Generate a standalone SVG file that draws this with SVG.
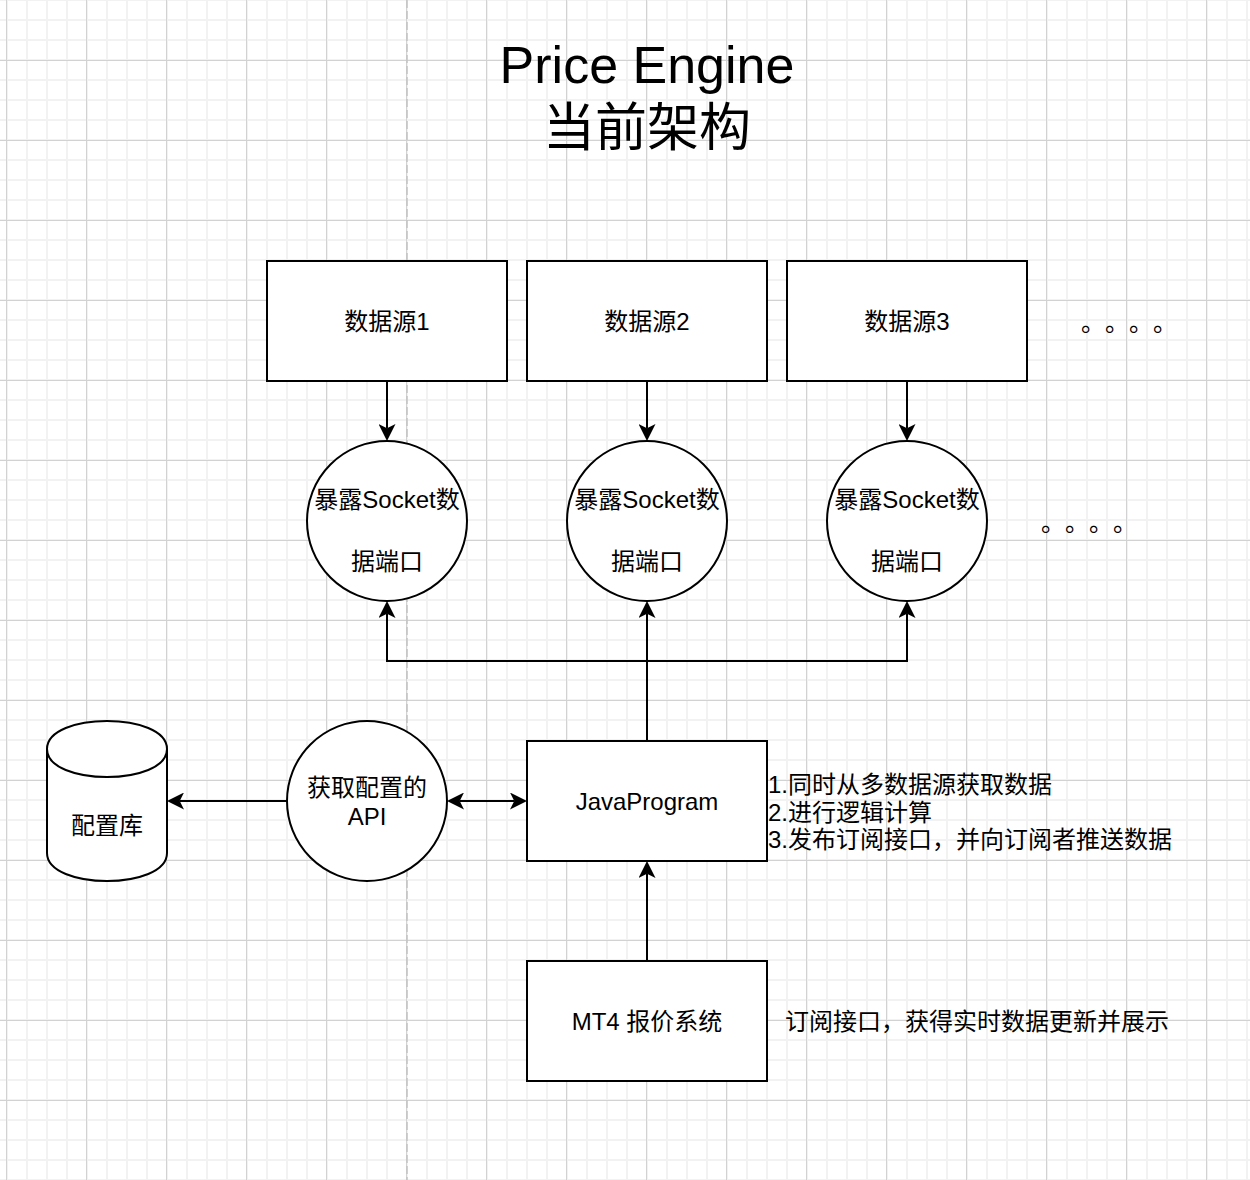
<svg xmlns="http://www.w3.org/2000/svg" width="1250" height="1180" viewBox="0 0 1250 1180">
<style>
  text { font-family: "Liberation Sans", "Noto Sans CJK SC", sans-serif; fill: #000; }
  .t24 { font-size: 24px; }
  .mid { text-anchor: middle; }
  .cjk { font-family: "Noto Sans CJK SC", sans-serif; }
  .shape { fill: #fff; stroke: #000; stroke-width: 2; }
  .edge { fill: none; stroke: #000; stroke-width: 2; }
</style>
<defs>
  <pattern id="minorGrid" x="6" y="-1" width="20" height="20" patternUnits="userSpaceOnUse">
    <path d="M1,0 V20 M0,1 H20" stroke="#f2f2f2" stroke-width="2" fill="none"/>
  </pattern>
  <pattern id="majorGrid" x="6" y="60" width="80" height="80" patternUnits="userSpaceOnUse">
    <path d="M0.5,0 V80 M0,0.5 H80" stroke="#d2d2d2" stroke-width="1" fill="none"/>
  </pattern>
  <marker id="arrow" viewBox="0 0 17 17" markerWidth="17" markerHeight="17" refX="4.25" refY="8.5" orient="auto-start-reverse" markerUnits="userSpaceOnUse">
    <path d="M0,0 L17,8.5 L0,17 L4.25,8.5 Z" fill="#000"/>
  </marker>
</defs>

<g id="background">
  <rect x="0" y="0" width="1250" height="1180" fill="#fff"/>
  <rect x="0" y="0" width="1250" height="1180" fill="url(#minorGrid)"/>
  <rect x="0" y="0" width="1250" height="1180" fill="url(#majorGrid)"/>
  <line x1="407" y1="0" x2="407" y2="1180" stroke="#c4c4c4" stroke-width="1.5" stroke-dasharray="8,3"/>
</g>

<g id="title">
  <text x="647" y="83" class="mid" font-size="52">Price Engine</text>
  <text x="647" y="146" class="mid" font-size="52">当前架构</text>
</g>

<g id="connectors">
  <path class="edge" d="M387,381 V428.25" marker-end="url(#arrow)"/>
  <path class="edge" d="M647,381 V428.25" marker-end="url(#arrow)"/>
  <path class="edge" d="M907,381 V428.25" marker-end="url(#arrow)"/>
  <path class="edge" d="M647,741 V661 H387 V613.75" marker-end="url(#arrow)"/>
  <path class="edge" d="M647,741 V613.75" marker-end="url(#arrow)"/>
  <path class="edge" d="M647,741 V661 H907 V613.75" marker-end="url(#arrow)"/>
  <path class="edge" d="M287,801 H179.75" marker-end="url(#arrow)"/>
  <path class="edge" d="M459.75,801 H514.25" marker-start="url(#arrow)" marker-end="url(#arrow)"/>
  <path class="edge" d="M647,961 V873.75" marker-end="url(#arrow)"/>
</g>

<g id="source1">
  <rect class="shape" x="267" y="261" width="240" height="120"/>
  <text x="387" y="329.5" class="t24 mid">数据源1</text>
</g>
<g id="source2">
  <rect class="shape" x="527" y="261" width="240" height="120"/>
  <text x="647" y="329.5" class="t24 mid">数据源2</text>
</g>
<g id="source3">
  <rect class="shape" x="787" y="261" width="240" height="120"/>
  <text x="907" y="329.5" class="t24 mid">数据源3</text>
</g>
<g id="dots-top">
  <text y="331" class="t24 cjk"><tspan x="1081">。</tspan><tspan x="1105">。</tspan><tspan x="1129">。</tspan><tspan x="1153">。</tspan></text>
</g>

<g id="socket1">
  <circle class="shape" cx="387" cy="521" r="80"/>
  <text x="387" y="507.5" class="t24 mid">暴露Socket数</text>
  <text x="387" y="569.5" class="t24 mid">据端口</text>
</g>
<g id="socket2">
  <circle class="shape" cx="647" cy="521" r="80"/>
  <text x="647" y="507.5" class="t24 mid">暴露Socket数</text>
  <text x="647" y="569.5" class="t24 mid">据端口</text>
</g>
<g id="socket3">
  <circle class="shape" cx="907" cy="521" r="80"/>
  <text x="907" y="507.5" class="t24 mid">暴露Socket数</text>
  <text x="907" y="569.5" class="t24 mid">据端口</text>
</g>
<g id="dots-bottom">
  <text y="531" class="t24 cjk"><tspan x="1041">。</tspan><tspan x="1065">。</tspan><tspan x="1089">。</tspan><tspan x="1113">。</tspan></text>
</g>

<g id="config-db">
  <path class="shape" d="M47,749 C47,711.7 167,711.7 167,749 V853 C167,890.3 47,890.3 47,853 Z"/>
  <path class="edge" d="M47,749 C47,786.3 167,786.3 167,749"/>
  <text x="107" y="834" class="t24 mid">配置库</text>
</g>

<g id="config-api">
  <circle class="shape" cx="367" cy="801" r="80"/>
  <text x="367" y="796" class="t24 mid">获取配置的</text>
  <text x="367" y="825" class="t24 mid">API</text>
</g>

<g id="java-program">
  <rect class="shape" x="527" y="741" width="240" height="120"/>
  <text x="647" y="810" class="t24 mid">JavaProgram</text>
</g>
<g id="java-notes">
  <text x="768" y="793" class="t24">1.同时从多数据源获取数据</text>
  <text x="768" y="820.5" class="t24">2.进行逻辑计算</text>
  <text x="768" y="848" class="t24">3.发布订阅接口，并向订阅者推送数据</text>
</g>

<g id="mt4">
  <rect class="shape" x="527" y="961" width="240" height="120"/>
  <text x="647" y="1030" class="t24 mid">MT4 报价系统</text>
</g>
<g id="mt4-note">
  <text x="785" y="1030" class="t24">订阅接口，获得实时数据更新并展示</text>
</g>
</svg>
